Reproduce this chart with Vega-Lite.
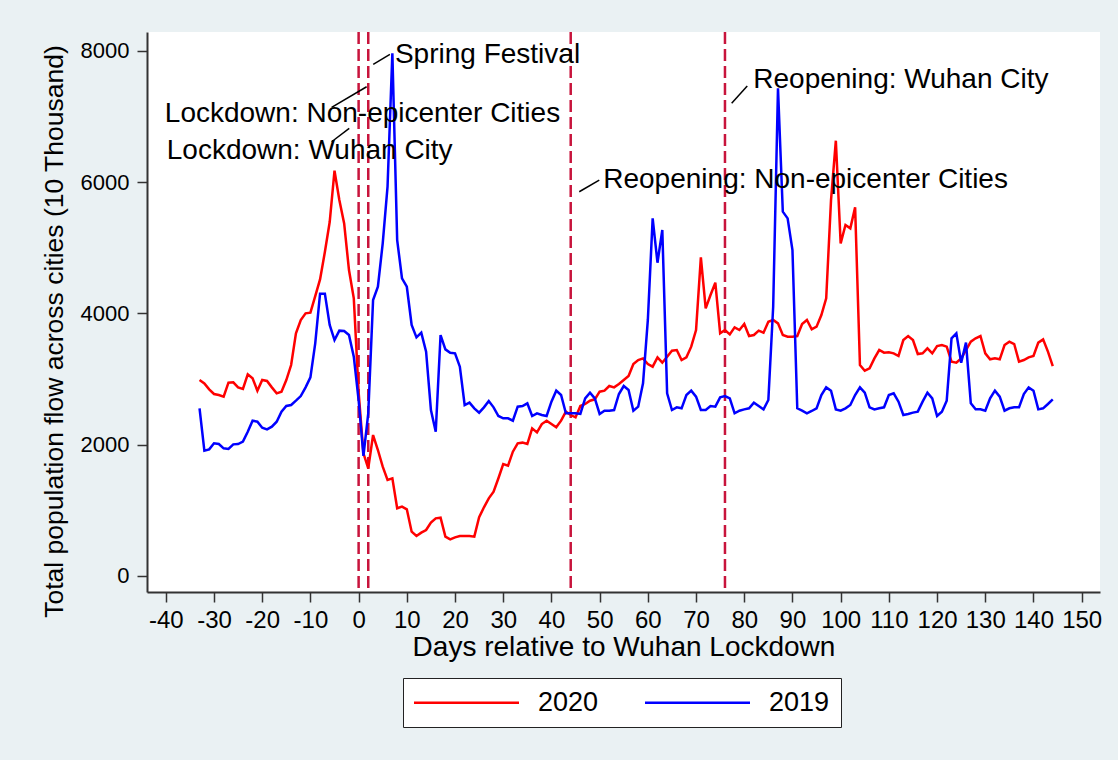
{
  "$schema": "https://vega.github.io/schema/vega-lite/v6.json",
  "width": 953,
  "height": 560,
  "autosize": {"type": "none"},
  "padding": {"left": 147, "top": 32, "right": 18, "bottom": 168},
  "background": "#eaf1f3",
  "config": {
    "font": "Liberation Sans",
    "view": {"fill": "white", "stroke": null},
    "axis": {"grid": false, "labelColor": "black", "titleColor": "black", "titleFontWeight": "normal", "domainColor": "#333", "domainWidth": 2, "tickColor": "#333", "tickWidth": 1.5, "tickSize": 10, "labelOverlap": false, "labelFlush": false}
  },
  "datasets": {
    "r2020": [
      {"d":-33,"v":2985},{"d":-32,"v":2934},{"d":-31,"v":2843},{"d":-30,"v":2772},{"d":-29,"v":2757},{"d":-28,"v":2731},{"d":-27,"v":2944},{"d":-26,"v":2949},{"d":-25,"v":2873},{"d":-24,"v":2848},{"d":-23,"v":3071},{"d":-22,"v":3010},{"d":-21,"v":2822},{"d":-20,"v":2985},{"d":-19,"v":2970},{"d":-18,"v":2873},{"d":-17,"v":2782},{"d":-16,"v":2808},{"d":-15,"v":2985},{"d":-14,"v":3213},{"d":-13,"v":3696},{"d":-12,"v":3899},{"d":-11,"v":4000},{"d":-10,"v":4010},{"d":-9,"v":4264},{"d":-8,"v":4518},{"d":-7,"v":4935},{"d":-6,"v":5391},{"d":-5,"v":6173},{"d":-4,"v":5726},{"d":-3,"v":5371},{"d":-2,"v":4660},{"d":-1,"v":4229},
      {"d":0,"v":2800},{"d":1,"v":1868},{"d":2,"v":1640},{"d":3,"v":2147},{"d":4,"v":1919},{"d":5,"v":1665},{"d":6,"v":1462},{"d":7,"v":1487},{"d":8,"v":1031},{"d":9,"v":1056},{"d":10,"v":1015},{"d":11,"v":675},{"d":12,"v":609},{"d":13,"v":660},{"d":14,"v":700},{"d":15,"v":812},{"d":16,"v":878},{"d":17,"v":888},{"d":18,"v":599},{"d":19,"v":558},{"d":20,"v":589},{"d":21,"v":609},{"d":22,"v":609},{"d":23,"v":609},{"d":24,"v":599},{"d":25,"v":894},{"d":26,"v":1046},{"d":27,"v":1183},{"d":28,"v":1284},{"d":29,"v":1488},{"d":30,"v":1706},{"d":31,"v":1680},{"d":32,"v":1893},{"d":33,"v":2021},{"d":34,"v":2031},{"d":35,"v":2010},{"d":36,"v":2249},{"d":37,"v":2188},{"d":38,"v":2315},{"d":39,"v":2366},{"d":40,"v":2315},{"d":41,"v":2264},{"d":42,"v":2366},{"d":43,"v":2503},{"d":44,"v":2452},{"d":45,"v":2416},{"d":46,"v":2589},{"d":47,"v":2620},{"d":48,"v":2670},{"d":49,"v":2691},{"d":50,"v":2807},{"d":51,"v":2823},{"d":52,"v":2894},{"d":53,"v":2873},{"d":54,"v":2924},{"d":55,"v":2985},{"d":56,"v":3046},{"d":57,"v":3229},{"d":58,"v":3290},{"d":59,"v":3315},{"d":60,"v":3229},{"d":61,"v":3188},{"d":62,"v":3330},{"d":63,"v":3249},{"d":64,"v":3340},{"d":65,"v":3432},{"d":66,"v":3442},{"d":67,"v":3290},{"d":68,"v":3330},{"d":69,"v":3493},{"d":70,"v":3747},{"d":71,"v":4853},{"d":72,"v":4076},{"d":73,"v":4280},{"d":74,"v":4467},{"d":75,"v":3696},{"d":76,"v":3747},{"d":77,"v":3680},{"d":78,"v":3787},{"d":79,"v":3747},{"d":80,"v":3838},{"d":81,"v":3655},{"d":82,"v":3670},{"d":83,"v":3737},{"d":84,"v":3706},{"d":85,"v":3873},{"d":86,"v":3899},{"d":87,"v":3848},{"d":88,"v":3670},{"d":89,"v":3645},{"d":90,"v":3645},{"d":91,"v":3655},{"d":92,"v":3838},{"d":93,"v":3899},{"d":94,"v":3757},{"d":95,"v":3797},{"d":96,"v":3975},{"d":97,"v":4229},{"d":98,"v":5726},{"d":99,"v":6630},{"d":100,"v":5067},{"d":101,"v":5346},{"d":102,"v":5295},{"d":103,"v":5615},{"d":104,"v":3214},{"d":105,"v":3127},{"d":106,"v":3163},{"d":107,"v":3315},{"d":108,"v":3442},{"d":109,"v":3401},{"d":110,"v":3406},{"d":111,"v":3391},{"d":112,"v":3351},{"d":113,"v":3594},{"d":114,"v":3655},{"d":115,"v":3594},{"d":116,"v":3381},{"d":117,"v":3391},{"d":118,"v":3467},{"d":119,"v":3391},{"d":120,"v":3503},{"d":121,"v":3518},{"d":122,"v":3493},{"d":123,"v":3264},{"d":124,"v":3249},{"d":125,"v":3315},{"d":126,"v":3442},{"d":127,"v":3569},{"d":128,"v":3620},{"d":129,"v":3655},{"d":130,"v":3391},{"d":131,"v":3300},{"d":132,"v":3315},{"d":133,"v":3300},{"d":134,"v":3518},{"d":135,"v":3569},{"d":136,"v":3533},{"d":137,"v":3264},{"d":138,"v":3290},{"d":139,"v":3330},{"d":140,"v":3351},{"d":141,"v":3554},{"d":142,"v":3604},{"d":143,"v":3417},{"d":144,"v":3198}
    ],
    "b2019": [
      {"d":-33,"v":2554},{"d":-32,"v":1909},{"d":-31,"v":1929},{"d":-30,"v":2021},{"d":-29,"v":2010},{"d":-28,"v":1944},{"d":-27,"v":1934},{"d":-26,"v":2005},{"d":-25,"v":2010},{"d":-24,"v":2046},{"d":-23,"v":2198},{"d":-22,"v":2366},{"d":-21,"v":2350},{"d":-20,"v":2259},{"d":-19,"v":2234},{"d":-18,"v":2274},{"d":-17,"v":2350},{"d":-16,"v":2503},{"d":-15,"v":2589},{"d":-14,"v":2604},{"d":-13,"v":2670},{"d":-12,"v":2741},{"d":-11,"v":2873},{"d":-10,"v":3026},{"d":-9,"v":3544},{"d":-8,"v":4300},{"d":-7,"v":4300},{"d":-6,"v":3823},{"d":-5,"v":3594},{"d":-4,"v":3737},{"d":-3,"v":3732},{"d":-2,"v":3670},{"d":-1,"v":3340},
      {"d":0,"v":2680},{"d":1,"v":1828},{"d":2,"v":2478},{"d":3,"v":4203},{"d":4,"v":4406},{"d":5,"v":5067},{"d":6,"v":5930},{"d":7,"v":7960},{"d":8,"v":5117},{"d":9,"v":4533},{"d":10,"v":4406},{"d":11,"v":3823},{"d":12,"v":3635},{"d":13,"v":3706},{"d":14,"v":3417},{"d":15,"v":2528},{"d":16,"v":2198},{"d":17,"v":3670},{"d":18,"v":3452},{"d":19,"v":3401},{"d":20,"v":3391},{"d":21,"v":3188},{"d":22,"v":2604},{"d":23,"v":2640},{"d":24,"v":2554},{"d":25,"v":2488},{"d":26,"v":2569},{"d":27,"v":2665},{"d":28,"v":2569},{"d":29,"v":2437},{"d":30,"v":2401},{"d":31,"v":2401},{"d":32,"v":2366},{"d":33,"v":2579},{"d":34,"v":2589},{"d":35,"v":2630},{"d":36,"v":2437},{"d":37,"v":2478},{"d":38,"v":2452},{"d":39,"v":2437},{"d":40,"v":2655},{"d":41,"v":2823},{"d":42,"v":2757},{"d":43,"v":2478},{"d":44,"v":2478},{"d":45,"v":2478},{"d":46,"v":2468},{"d":47,"v":2706},{"d":48,"v":2792},{"d":49,"v":2706},{"d":50,"v":2468},{"d":51,"v":2518},{"d":52,"v":2518},{"d":53,"v":2528},{"d":54,"v":2772},{"d":55,"v":2894},{"d":56,"v":2833},{"d":57,"v":2518},{"d":58,"v":2579},{"d":59,"v":2934},{"d":60,"v":3900},{"d":61,"v":5447},{"d":62,"v":4772},{"d":63,"v":5270},{"d":64,"v":2782},{"d":65,"v":2528},{"d":66,"v":2569},{"d":67,"v":2554},{"d":68,"v":2757},{"d":69,"v":2823},{"d":70,"v":2731},{"d":71,"v":2528},{"d":72,"v":2528},{"d":73,"v":2589},{"d":74,"v":2579},{"d":75,"v":2721},{"d":76,"v":2741},{"d":77,"v":2706},{"d":78,"v":2478},{"d":79,"v":2518},{"d":80,"v":2538},{"d":81,"v":2554},{"d":82,"v":2640},{"d":83,"v":2589},{"d":84,"v":2538},{"d":85,"v":2680},{"d":86,"v":4100},{"d":87,"v":7427},{"d":88,"v":5549},{"d":89,"v":5447},{"d":90,"v":4965},{"d":91,"v":2554},{"d":92,"v":2518},{"d":93,"v":2478},{"d":94,"v":2513},{"d":95,"v":2554},{"d":96,"v":2757},{"d":97,"v":2873},{"d":98,"v":2823},{"d":99,"v":2538},{"d":100,"v":2518},{"d":101,"v":2554},{"d":102,"v":2604},{"d":103,"v":2757},{"d":104,"v":2873},{"d":105,"v":2792},{"d":106,"v":2569},{"d":107,"v":2538},{"d":108,"v":2554},{"d":109,"v":2569},{"d":110,"v":2757},{"d":111,"v":2782},{"d":112,"v":2655},{"d":113,"v":2452},{"d":114,"v":2468},{"d":115,"v":2488},{"d":116,"v":2503},{"d":117,"v":2655},{"d":118,"v":2792},{"d":119,"v":2706},{"d":120,"v":2437},{"d":121,"v":2503},{"d":122,"v":2670},{"d":123,"v":3620},{"d":124,"v":3696},{"d":125,"v":3249},{"d":126,"v":3554},{"d":127,"v":2630},{"d":128,"v":2538},{"d":129,"v":2538},{"d":130,"v":2518},{"d":131,"v":2706},{"d":132,"v":2823},{"d":133,"v":2731},{"d":134,"v":2518},{"d":135,"v":2554},{"d":136,"v":2569},{"d":137,"v":2569},{"d":138,"v":2772},{"d":139,"v":2873},{"d":140,"v":2823},{"d":141,"v":2538},{"d":142,"v":2554},{"d":143,"v":2620},{"d":144,"v":2691}
    ],
    "vlines": [{"d": 0}, {"d": 2}, {"d": 44}, {"d": 76}],
    "leaders": [
      {"x1": 3.03, "y1": 7793, "x2": 6.49, "y2": 7946},
      {"x1": -5.6, "y1": 7138, "x2": 1.66, "y2": 7452},
      {"x1": -5.6, "y1": 6614, "x2": -1.95, "y2": 6818},
      {"x1": 45.77, "y1": 5853, "x2": 49.92, "y2": 6031},
      {"x1": 77.39, "y1": 7199, "x2": 80.62, "y2": 7463}
    ],
    "notes": [
      {"x": 7.53, "y": 7808, "label": "Spring Festival"},
      {"x": -40.2, "y": 6919, "label": "Lockdown: Non-epicenter Cities"},
      {"x": -39.8, "y": 6346, "label": "Lockdown: Wuhan City"},
      {"x": 50.75, "y": 5905, "label": "Reopening: Non-epicenter Cities"},
      {"x": 81.87, "y": 7428, "label": "Reopening: Wuhan City"}
    ]
  },
  "layer": [
    {
      "data": {"name": "vlines"},
      "mark": {"type": "rule", "strokeDash": [12, 5], "strokeWidth": 2.5, "color": "#c8143c"},
      "encoding": {
        "x": {"field": "d", "type": "quantitative", "scale": {"domain": [-43.9, 153.8], "nice": false, "zero": false},
          "axis": {"values": [-40,-30,-20,-10,0,10,20,30,40,50,60,70,80,90,100,110,120,130,140,150], "labelExpr": "'' + datum.value", "labelFontSize": 24, "labelPadding": 6, "title": "Days relative to Wuhan Lockdown", "titleFontSize": 28, "titleBaseline": "top", "titleY": 41}}
      }
    },
    {
      "data": {"name": "r2020"},
      "mark": {"type": "line", "strokeWidth": 2.5},
      "encoding": {
        "x": {"field": "d", "type": "quantitative", "scale": {"domain": [-43.9, 153.8], "nice": false, "zero": false}},
        "y": {"field": "v", "type": "quantitative", "scale": {"domain": [-244, 8286], "nice": false, "zero": false},
          "axis": {"values": [0, 2000, 4000, 6000, 8000], "labelExpr": "'' + datum.value", "labelFontSize": 22, "labelPadding": 8, "title": "Total population flow across cities (10 Thousand)", "titleFontSize": 26.5, "titleX": -85, "titleY": 299, "titleBaseline": "alphabetic", "titleAlign": "center"}},
        "color": {"datum": "2020", "type": "nominal", "scale": {"domain": ["2020", "2019"], "range": ["#ff0000", "#0000ff"]},
          "legend": {"title": null, "orient": "none", "legendX": 256, "legendY": 646, "direction": "horizontal", "symbolType": "M-5,0H5", "symbolSize": 441, "symbolStrokeWidth": 2.5, "symbolOffset": 39, "labelFontSize": 27, "labelColor": "black", "labelOffset": 58, "columnPadding": 41, "padding": 11, "strokeColor": "#222", "fillColor": "white"}}
      }
    },
    {
      "data": {"name": "b2019"},
      "mark": {"type": "line", "strokeWidth": 2.5},
      "encoding": {
        "x": {"field": "d", "type": "quantitative", "scale": {"domain": [-43.9, 153.8], "nice": false, "zero": false}},
        "y": {"field": "v", "type": "quantitative", "scale": {"domain": [-244, 8286], "nice": false, "zero": false}},
        "color": {"datum": "2019", "type": "nominal"}
      }
    },
    {
      "data": {"name": "leaders"},
      "mark": {"type": "rule", "color": "black", "strokeWidth": 1.5},
      "encoding": {
        "x": {"field": "x1", "type": "quantitative", "scale": {"domain": [-43.9, 153.8], "nice": false, "zero": false}},
        "y": {"field": "y1", "type": "quantitative", "scale": {"domain": [-244, 8286], "nice": false, "zero": false}},
        "x2": {"field": "x2"},
        "y2": {"field": "y2"}
      }
    },
    {
      "data": {"name": "notes"},
      "mark": {"type": "text", "align": "left", "baseline": "alphabetic", "fontSize": 28, "color": "black"},
      "encoding": {
        "x": {"field": "x", "type": "quantitative", "scale": {"domain": [-43.9, 153.8], "nice": false, "zero": false}},
        "y": {"field": "y", "type": "quantitative", "scale": {"domain": [-244, 8286], "nice": false, "zero": false}},
        "text": {"field": "label"}
      }
    }
  ]
}
